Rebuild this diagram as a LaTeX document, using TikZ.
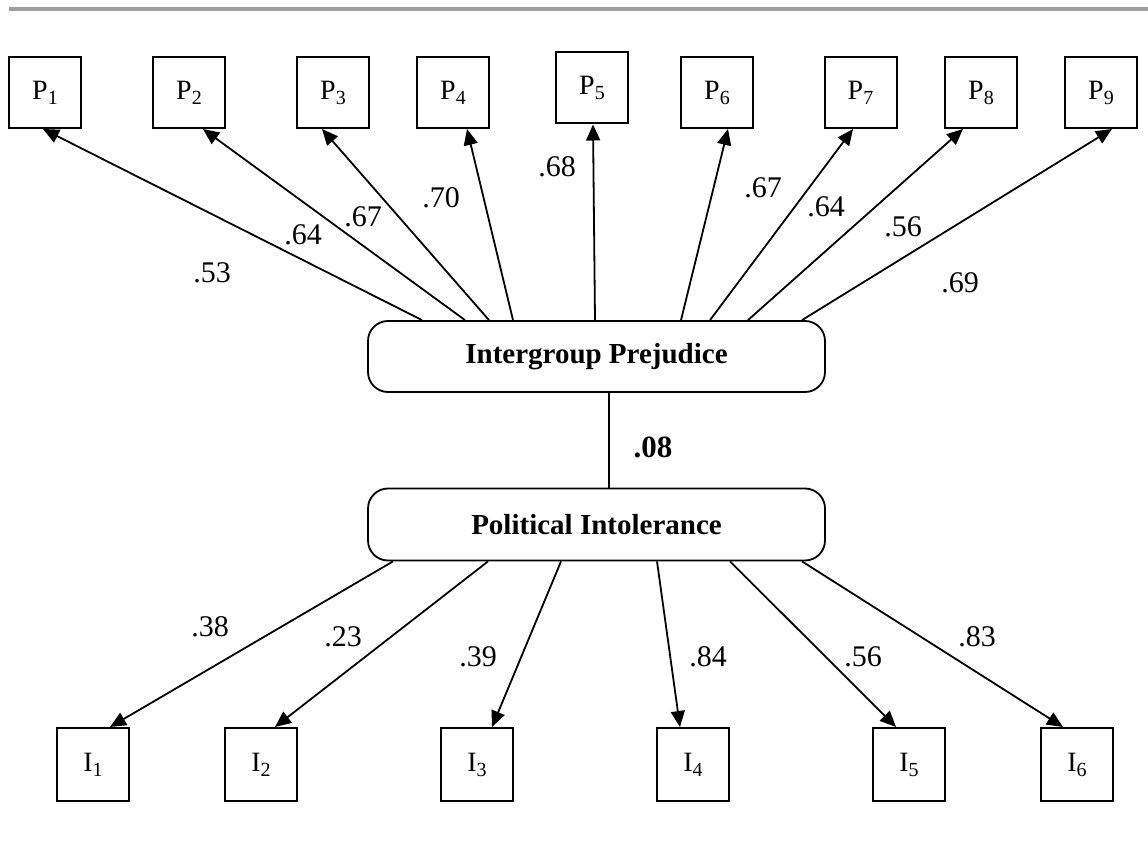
\documentclass[tikz,border=0pt]{standalone}
\usepackage{fontspec}
\setmainfont{Liberation Serif}
\usetikzlibrary{arrows.meta}
\newcommand\mysub[2]{#1\raisebox{-5pt}{\fontsize{20}{21}\selectfont #2}}
\tikzset{
  obs/.style={draw, line width=2pt, minimum width=72pt, minimum height=71pt, inner sep=0pt, font=\fontsize{28}{30}\selectfont},
  lat/.style={draw, line width=1.8pt, rounded corners=20pt, minimum width=457pt, minimum height=71pt, inner sep=0pt, font=\fontsize{29}{32}\selectfont\bfseries},
  arr/.style={line width=1.8pt, -{Triangle[length=16pt,width=14pt]}},
  plain/.style={line width=1.8pt},
  lbl/.style={font=\fontsize{30}{32}\selectfont, inner sep=0pt},
  blbl/.style={font=\fontsize{31}{33}\selectfont\bfseries, inner sep=0pt},
  rule/.style={line width=4.5pt, draw=black!38},
}
\begin{document}
\begin{tikzpicture}[x=1pt,y=-1pt]
\useasboundingbox (0,0) rectangle (1148,850);
% top rule
\coordinate (r1) at (9,9);
\coordinate (r2) at (1148,9);
\draw[rule] (r1) -- (r2);
% observed prejudice indicators
\node[obs] (P1) at (45,92.5) {\mysub{P}{1}};
\node[obs] (P2) at (189,92.5) {\mysub{P}{2}};
\node[obs] (P3) at (333,92.5) {\mysub{P}{3}};
\node[obs] (P4) at (453,92.5) {\mysub{P}{4}};
\node[obs] (P5) at (592,88) {\mysub{P}{5}};
\node[obs] (P6) at (717,92.5) {\mysub{P}{6}};
\node[obs] (P7) at (860.5,92.5) {\mysub{P}{7}};
\node[obs] (P8) at (981,92.5) {\mysub{P}{8}};
\node[obs] (P9) at (1101,92.5) {\mysub{P}{9}};
% latent variables
\node[lat] (IP) at (596.5,356.5) {Intergroup Prejudice};
\node[lat, minimum height=72pt] (PI) at (596.5,524.5) {Political Intolerance};
% observed intolerance indicators
\node[obs, minimum height=73pt] (I1) at (93,764.5) {\mysub{I}{1}};
\node[obs, minimum height=73pt] (I2) at (261,764.5) {\mysub{I}{2}};
\node[obs, minimum height=73pt] (I3) at (477,764.5) {\mysub{I}{3}};
\node[obs, minimum height=73pt] (I4) at (693,764.5) {\mysub{I}{4}};
\node[obs, minimum height=73pt] (I5) at (909,764.5) {\mysub{I}{5}};
\node[obs, minimum height=73pt] (I6) at (1077,764.5) {\mysub{I}{6}};
% top arrows
\draw[arr] ([xshift=-174.5pt]IP.north) -- ([xshift=-2pt]P1.south);
\draw[arr] ([xshift=-131.5pt]IP.north) -- ([xshift=14pt]P2.south);
\draw[arr] ([xshift=-107.5pt]IP.north) -- ([xshift=-11pt]P3.south);
\draw[arr] ([xshift=-83.5pt]IP.north) -- ([xshift=14pt]P4.south);
\draw[arr] ([xshift=-1.5pt]IP.north) -- ([xshift=1pt]P5.south);
\draw[arr] ([xshift=84.5pt]IP.north) -- ([xshift=11pt]P6.south);
\draw[arr] ([xshift=113.5pt]IP.north) -- ([xshift=-7.5pt]P7.south);
\draw[arr] ([xshift=151.5pt]IP.north) -- ([xshift=-18pt]P8.south);
\draw[arr] ([xshift=205.5pt]IP.north) -- ([xshift=11pt]P9.south);
% link between latents
\draw[plain] ([xshift=12.5pt]IP.south) -- ([xshift=12.5pt]PI.north);
% bottom arrows
\draw[arr] ([xshift=-203.5pt]PI.south) -- ([xshift=17pt]I1.north);
\draw[arr] ([xshift=-108.5pt]PI.south) -- ([xshift=14pt]I2.north);
\draw[arr] ([xshift=-35.5pt]PI.south) -- ([xshift=15pt]I3.north);
\draw[arr] ([xshift=60.5pt]PI.south) -- ([xshift=-13pt]I4.north);
\draw[arr] ([xshift=133.5pt]PI.south) -- ([xshift=-13pt]I5.north);
\draw[arr] ([xshift=205.5pt]PI.south) -- ([xshift=-14pt]I6.north);
% loadings
\node[lbl] (l1) at (212,273) {.53};
\node[lbl] (l2) at (303,235) {.64};
\node[lbl] (l3) at (363,217) {.67};
\node[lbl] (l4) at (441,198) {.70};
\node[lbl] (l5) at (557,167) {.68};
\node[lbl] (l6) at (763,188) {.67};
\node[lbl] (l7) at (826,207) {.64};
\node[lbl] (l8) at (903,227) {.56};
\node[lbl] (l9) at (960,283) {.69};
\node[blbl] (lc) at (653,447) {.08};
\node[lbl] (m1) at (210,627) {.38};
\node[lbl] (m2) at (343,637) {.23};
\node[lbl] (m3) at (478,657) {.39};
\node[lbl] (m4) at (708,657) {.84};
\node[lbl] (m5) at (863,657) {.56};
\node[lbl] (m6) at (977,637) {.83};
\end{tikzpicture}
\end{document}
